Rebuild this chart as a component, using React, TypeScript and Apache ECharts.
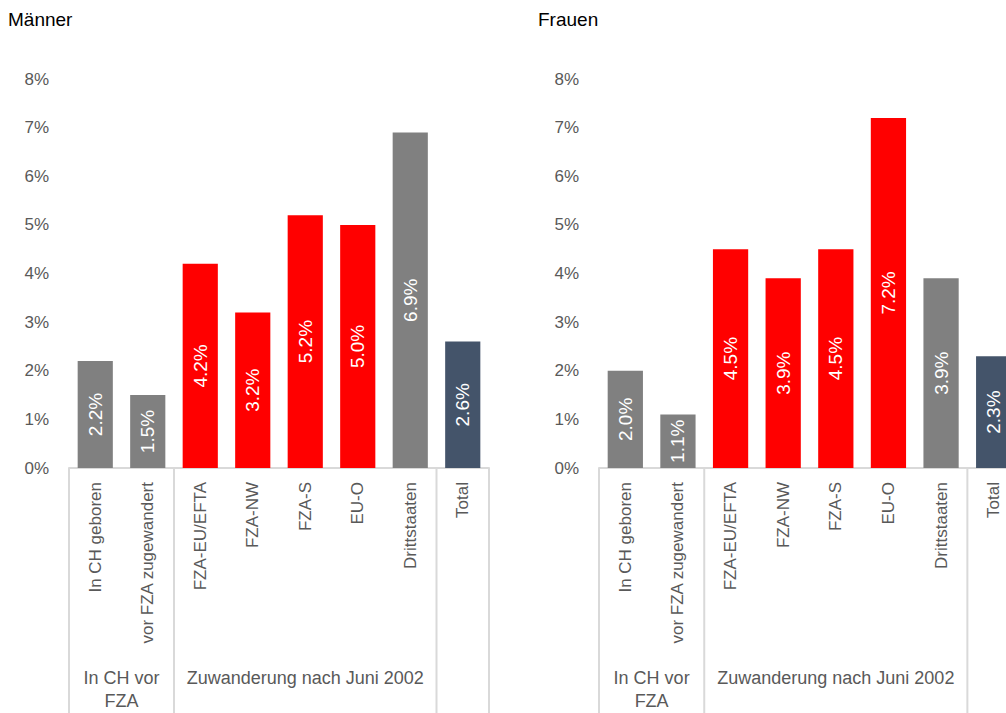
import React, { useEffect, useRef } from 'react';
import * as echarts from 'echarts';

const categories = ['In CH geboren', 'vor FZA zugewandert', 'FZA-EU/EFTA', 'FZA-NW', 'FZA-S', 'EU-O', 'Drittstaaten', 'Total'];
const groupLabels = ['In CH vor\nFZA', 'Zuwanderung nach Juni 2002', ''];
const groupSpans = [2, 5, 1];
const maenner = [2.2, 1.5, 4.2, 3.2, 5.2, 5.0, 6.9, 2.6];
const frauen = [2.0, 1.1, 4.5, 3.9, 4.5, 7.2, 3.9, 2.3];
const barColors = ['#808080', '#808080', '#ff0000', '#ff0000', '#ff0000', '#ff0000', '#808080', '#44546a'];
const panelTitles = ['Männer', 'Frauen'];
const yMin = 0;
const yMax = 8;
const yStep = 1;

const FONT = "'Liberation Sans', Arial, sans-serif";
const LINE = '#d9d9d9';
const TXT = '#595959';

export default function App() {
  const ref = useRef<HTMLDivElement>(null);
  useEffect(() => {
    if (!ref.current) return;
    const chart = echarts.init(ref.current, undefined, { renderer: 'svg' });
    const grids = [
      { left: 69, top: 79, width: 420, height: 389 },
      { left: 599, top: 79, width: 421, height: 389 },
    ];
    const datasets = [maenner, frauen];
    chart.setOption({
      animation: false,
      textStyle: { fontFamily: FONT },
      grid: grids,
      xAxis: grids.map((_, i) => ({
        type: 'category',
        gridIndex: i,
        data: categories,
        axisLine: { lineStyle: { color: LINE, width: 2 } },
        axisTick: { show: false },
        axisLabel: { rotate: 90, margin: 14, color: TXT, fontSize: 17, fontFamily: FONT, interval: 0 },
      })),
      yAxis: grids.map((_, i) => ({
        type: 'value',
        gridIndex: i,
        min: yMin,
        max: yMax,
        interval: yStep,
        splitLine: { show: false },
        axisLine: { show: false },
        axisTick: { show: false },
        axisLabel: { formatter: '{value}%', color: TXT, fontSize: 17, margin: 20, fontFamily: FONT },
      })),
      series: datasets.map((d, i) => ({
        type: 'bar',
        xAxisIndex: i,
        yAxisIndex: i,
        barCategoryGap: '33%',
        data: d.map((v, j) => ({ value: v, itemStyle: { color: barColors[j] } })),
        label: {
          show: true,
          position: 'inside',
          rotate: 90,
          color: '#ffffff',
          fontSize: 19,
          fontFamily: FONT,
          formatter: (p: any) => Number(p.value).toFixed(1) + '%',
        },
      })),
    });

    const graphic: any[] = [];
    grids.forEach((g, i) => {
      const x0 = chart.convertToPixel({ xAxisIndex: i } as any, 0) as number;
      const x1 = chart.convertToPixel({ xAxisIndex: i } as any, 1) as number;
      const w = x1 - x0;
      const yAxisPx = chart.convertToPixel({ yAxisIndex: i } as any, 0) as number;
      const start = x0 - w / 2;
      graphic.push({
        type: 'text',
        left: g.left - 61,
        top: 10,
        style: { text: panelTitles[i], fontSize: 19, fill: '#000000', fontFamily: FONT },
      });
      let acc = 0;
      const bounds = [0];
      groupSpans.forEach((s) => {
        acc += s;
        bounds.push(acc);
      });
      bounds.forEach((b) => {
        const x = start + b * w;
        graphic.push({
          type: 'line',
          shape: { x1: x, y1: yAxisPx, x2: x, y2: 713 },
          style: { stroke: LINE, lineWidth: 2 },
        });
      });
      let c = 0;
      groupSpans.forEach((s, k) => {
        const cx = start + (c + s / 2) * w;
        c += s;
        if (!groupLabels[k]) return;
        graphic.push({
          type: 'text',
          x: cx,
          y: 666,
          style: {
            text: groupLabels[k],
            fontSize: 18,
            lineHeight: 23,
            fill: TXT,
            fontFamily: FONT,
            textAlign: 'center',
            textVerticalAlign: 'top',
          },
        });
      });
    });
    chart.setOption({ graphic });
    return () => chart.dispose();
  }, []);
  return (
    <div style={{ position: 'absolute', left: 0, top: 0, width: 1006, height: 713, overflow: 'hidden' }}>
      <div ref={ref} style={{ position: 'absolute', left: 0, top: 0, width: 1040, height: 713 }} />
    </div>
  );
}
